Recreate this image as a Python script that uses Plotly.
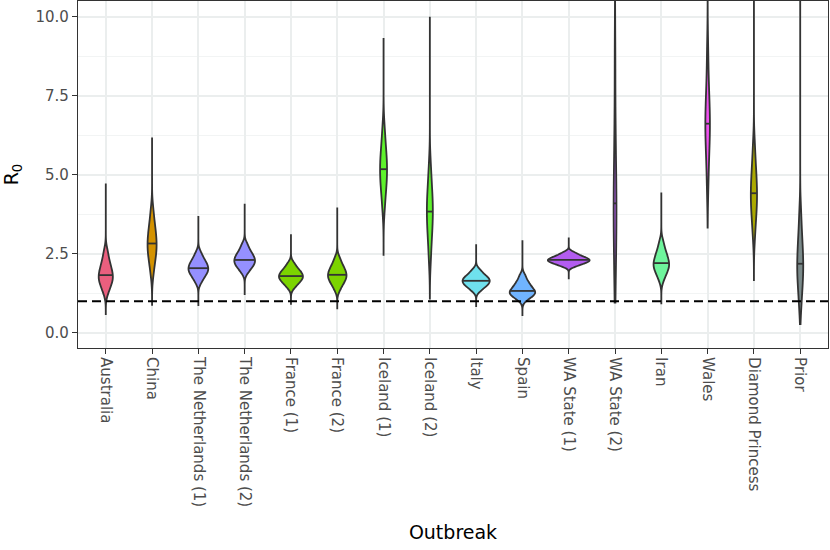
import numpy as np
import plotly.graph_objects as go

outbreaks = ["Australia", "China", "The Netherlands (1)", "The Netherlands (2)",
             "France (1)", "France (2)", "Iceland (1)", "Iceland (2)", "Italy",
             "Spain", "WA State (1)", "WA State (2)", "Iran", "Wales",
             "Diamond Princess", "Prior"]

# representative R0 quantile samples
australia = [1.29, 1.48, 1.59, 1.68, 1.76, 1.83, 1.93, 2.04, 2.16, 2.31, 2.57]
china = [1.90, 2.225, 2.42, 2.57, 2.70, 2.83, 2.97, 3.12, 3.29, 3.50, 3.86]
netherlands_1 = [1.62, 1.77, 1.86, 1.93, 1.99, 2.05, 2.11, 2.18, 2.26, 2.35, 2.52]
netherlands_2 = [1.93, 2.06, 2.14, 2.20, 2.26, 2.31, 2.38, 2.44, 2.52, 2.62, 2.79]
france_1 = [1.45, 1.57, 1.645, 1.70, 1.75, 1.80, 1.85, 1.91, 1.97, 2.05, 2.19]
france_2 = [1.39, 1.55, 1.64, 1.715, 1.78, 1.84, 1.91, 1.98, 2.07, 2.17, 2.35]
iceland_1 = [3.93, 4.37, 4.63, 4.83, 5.01, 5.18, 5.36, 5.54, 5.76, 6.03, 6.48]
iceland_2 = [2.32, 2.85, 3.17, 3.42, 3.63, 3.84, 4.04, 4.24, 4.49, 4.79, 5.29]
italy = [1.34, 1.45, 1.51, 1.56, 1.61, 1.65, 1.70, 1.74, 1.80, 1.87, 1.99]
spain = [1.06, 1.15, 1.21, 1.255, 1.29, 1.33, 1.39, 1.46, 1.54, 1.63, 1.80]
wa_state_1 = [2.11, 2.18, 2.22, 2.255, 2.28, 2.31, 2.34, 2.37, 2.41, 2.46, 2.54]
wa_state_2 = [1.5, 2.3, 2.9, 3.4, 3.8, 4.1, 4.5, 5.0, 5.7, 6.8, 8.8]
iran = [1.70, 1.88, 1.985, 2.07, 2.14, 2.21, 2.30, 2.39, 2.50, 2.63, 2.86]
wales = [4.6, 5.35, 5.8, 6.15, 6.4, 6.62, 6.86, 7.15, 7.5, 8.0, 8.9]
diamond_princess = [3.07, 3.54, 3.82, 4.04, 4.24, 4.42, 4.63, 4.84, 5.10, 5.41, 5.94]
prior = [0.84, 1.31, 1.59, 1.81, 2.01, 2.19, 2.41, 2.64, 2.90, 3.24, 3.80]

r0_min = [0.57, 0.89, 0.85, 1.20, 0.89, 0.75, 2.44, 1.09, 0.82, 0.54, 1.70, 0.96, 0.91, 3.33, 1.67, 0.28]
r0_max = [4.73, 6.18, 3.70, 4.09, 3.12, 3.97, 9.33, 10.0, 2.81, 2.93, 3.02, 13.0, 4.44, 13.0, 12.0, 14.0]

threshold = 1.0

samples = [australia, china, netherlands_1, netherlands_2, france_1, france_2,
           iceland_1, iceland_2, italy, spain, wa_state_1, wa_state_2, iran,
           wales, diamond_princess, prior]

fill_colors = ["#EA5F7E", "#D39200", "#9590FF", "#9590FF", "#7CD400", "#7CD400",
               "#5EF22C", "#5EF22C", "#6FE1EE", "#70B4FF", "#B35CF0", "#B35CF0",
               "#6EF59C", "#F050F0", "#ABA900", "#7A8A8A"]

OUTLINE = "#333333"


def kde(vals, bw, x):
    vals = np.asarray(vals, dtype=float)
    u = (np.asarray(x, dtype=float)[:, None] - vals[None, :]) / bw
    return np.exp(-0.5 * u ** 2).sum(axis=1) / (len(vals) * bw * np.sqrt(2 * np.pi))


bws, maxd = [], []
for vals, lo, hi in zip(samples, r0_min, r0_max):
    bw = 0.5 * float(np.std(vals, ddof=1))
    grid = np.linspace(lo, hi, 4000)
    bws.append(bw)
    maxd.append(float(kde(vals, bw, grid).max()))

# ggplot-like "area" scaling: widest violin gets full width
full_w = 0.9
widths = [full_w * m / max(maxd) for m in maxd]

fig = go.Figure()
for i, vals in enumerate(samples):
    fig.add_trace(go.Violin(
        x0=i + 1, y=vals, name=outbreaks[i], showlegend=False,
        width=widths[i], scalemode="width", spanmode="manual",
        span=[r0_min[i], r0_max[i]], bandwidth=bws[i],
        points=False, box_visible=False, meanline_visible=False,
        fillcolor=fill_colors[i], opacity=1,
        line=dict(color=OUTLINE, width=1.8), hoverinfo="skip"))

mx, my = [], []
for i, vals in enumerate(samples):
    med = float(np.median(vals))
    hw = widths[i] / 2 * float(kde(vals, bws[i], [med])[0]) / maxd[i]
    mx += [i + 1 - hw, i + 1 + hw, None]
    my += [med, med, None]
fig.add_trace(go.Scatter(x=mx, y=my, mode="lines", showlegend=False,
                         line=dict(color=OUTLINE, width=1.8), hoverinfo="skip"))

fig.add_shape(type="line", xref="paper", x0=0, x1=1, yref="y", y0=threshold, y1=threshold,
              line=dict(color="black", width=2, dash="9px,5px"), layer="above")

font_family = "DejaVu Sans, Liberation Sans, Arial, sans-serif"
fig.update_layout(
    width=830, height=550,
    margin=dict(l=78, r=2, t=1, b=202),
    paper_bgcolor="white", plot_bgcolor="white",
    violinmode="overlay", violingap=0, violingroupgap=0,
    font=dict(family=font_family, size=15, color="#4D4D4D"),
    showlegend=False,
)
fig.update_xaxes(
    type="linear", range=[0.4, 16.6], automargin=False,
    tickmode="array", tickvals=list(range(1, len(outbreaks) + 1)), ticktext=outbreaks,
    tickangle=90, ticks="outside", ticklen=5, tickwidth=1.2, tickcolor=OUTLINE,
    tickfont=dict(size=15, color="#4D4D4D"),
    showgrid=True, gridcolor="#EBEEEE", gridwidth=1.5, zeroline=False,
    showline=True, mirror=True, linecolor=OUTLINE, linewidth=1.2,
    title=dict(text="Outbreak", font=dict(size=19, color="black"), standoff=19),
)
fig.update_yaxes(
    range=[-0.475, 10.5], automargin=False, tickmode="array", tickvals=[0, 2.5, 5, 7.5, 10],
    ticktext=["0.0", "2.5", "5.0", "7.5", "10.0"],
    ticks="outside", ticklen=5, tickwidth=1.2, tickcolor=OUTLINE,
    tickfont=dict(size=15, color="#4D4D4D"),
    showgrid=True, gridcolor="#EBEEEE", gridwidth=1.5, zeroline=False,
    minor=dict(tickvals=[1.25, 3.75, 6.25, 8.75], showgrid=True, gridcolor="#F2F4F4", gridwidth=1, ticks=""),
    showline=True, mirror=True, linecolor=OUTLINE, linewidth=1.2,
    title=dict(text="R<sub>0</sub>", font=dict(size=19, color="black"), standoff=13),
)

fig.write_html("out.html", config={"displayModeBar": False},
               post_script="document.body.style.margin='0';")
